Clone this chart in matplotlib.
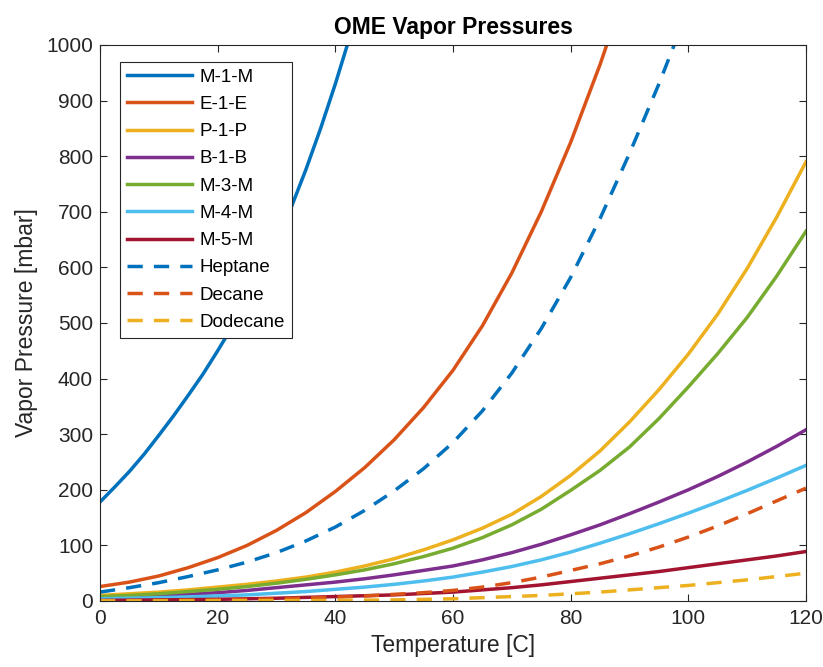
import numpy as np
import matplotlib
matplotlib.use("Agg")
import matplotlib.pyplot as plt

plt.rcParams['font.family'] = ['Liberation Sans', 'DejaVu Sans']

# temperatures (C)
temp = list(range(0, 121, 5))
temp_m1m = [0, 2.5, 5, 7.5, 10, 12.5, 15, 17.5, 20, 22.5, 25, 27.5, 30,
            32.5, 35, 37.5, 40, 42.5, 45]
temp_e1e = list(range(0, 91, 5))
temp_hept = list(range(0, 101, 5))

# vapor pressures (mbar)
m1m = [178, 205, 233, 264, 298, 333, 370, 408, 450, 494, 541, 591, 645,
       708, 776, 850, 930, 1016, 1110]
e1e = [26, 34, 45, 60, 78, 100, 127, 159, 197, 240, 290, 348, 415, 495,
       590, 700, 825, 965, 1120]
p1p = [10, 13, 16, 20, 25, 30, 36, 43, 52, 63, 76, 92, 110, 131, 156, 188,
       226, 270, 322, 380, 444, 516, 598, 690, 790]
b1b = [6, 7, 9, 12, 15, 19, 24, 29, 34, 40, 47, 55, 63, 74, 87, 102, 119,
       137, 157, 178, 200, 224, 250, 278, 308]
m3m = [8, 10, 13, 17, 21, 26, 32, 39, 47, 56, 67, 80, 95, 114, 137, 165,
       199, 235, 277, 328, 385, 445, 510, 584, 665]
m4m = [4, 5, 6, 7.5, 9, 11, 14, 17, 21, 25, 30, 36, 43, 52, 62, 74, 88, 104,
       121, 139, 158, 178, 199, 221, 244]
m5m = [1, 1.5, 2, 2.5, 3, 4, 5, 6.5, 8, 9.5, 11, 13.5, 16, 20, 24, 29, 35,
       41, 47, 53, 60, 67, 74, 81, 89]
heptane = [16, 24, 33, 44, 56, 70, 87, 108, 133, 163, 198, 238, 285, 342,
           410, 490, 582, 688, 805, 930, 1065]
decane = [0.5, 0.7, 1, 1.5, 2, 3, 4, 5.5, 7, 9, 12, 15, 19, 25, 33, 43, 55,
          67, 81, 97, 115, 135, 157, 180, 203]
dodecane = [0.1, 0.1, 0.2, 0.2, 0.3, 0.4, 0.6, 0.8, 1, 1.5, 2, 3, 4, 6, 8,
            10, 13, 16, 20, 24, 28, 33, 38, 44, 50]

c = ['#0072BD', '#D95319', '#EDB120', '#7E2F8E', '#77AC30', '#4DBEEE', '#A2142F']
lw = 2.5
dash = (0, (4.4, 3.2))

fig = plt.figure(figsize=(8.23, 6.67), dpi=100)
ax = fig.add_axes([100/823, 66/667, 706/823, 556/667])

ax.plot(temp_m1m, m1m, color=c[0], lw=lw, label='M-1-M')
ax.plot(temp_e1e, e1e, color=c[1], lw=lw, label='E-1-E')
ax.plot(temp, p1p, color=c[2], lw=lw, label='P-1-P')
ax.plot(temp, b1b, color=c[3], lw=lw, label='B-1-B')
ax.plot(temp, m3m, color=c[4], lw=lw, label='M-3-M')
ax.plot(temp, m4m, color=c[5], lw=lw, label='M-4-M')
ax.plot(temp, m5m, color=c[6], lw=lw, label='M-5-M')
ax.plot(temp_hept, heptane, color=c[0], lw=lw, ls=dash, label='Heptane')
ax.plot(temp, decane, color=c[1], lw=lw, ls=dash, label='Decane')
ax.plot(temp, dodecane, color=c[2], lw=lw, ls=dash, label='Dodecane')

ax.set_xlim(0, 120)
ax.set_ylim(0, 1000)
ax.set_xticks(np.arange(0, 121, 20))
ax.set_yticks(np.arange(0, 1001, 100))

edge = '#262626'
for s in ax.spines.values():
    s.set_color(edge)
    s.set_linewidth(0.8)
ax.tick_params(direction='in', top=True, right=True, length=5, width=0.8,
               colors=edge, labelsize=15, labelcolor=edge)
ax.tick_params(axis='x', pad=6)
ax.tick_params(axis='y', pad=5)

ax.set_xlabel('Temperature [C]', fontsize=16.5, color=edge, labelpad=4)
ax.set_ylabel('Vapor Pressure [mbar]', fontsize=16.5, color=edge, labelpad=6)
ax.set_title('OME Vapor Pressures', fontsize=16.5, fontweight='bold', pad=8)

leg = ax.legend(loc='upper left', bbox_to_anchor=(20/706, 1 - 17/556),
                borderaxespad=0, fontsize=13.5, fancybox=False, framealpha=1,
                edgecolor=edge, handlelength=3.5, handletextpad=0.4,
                labelspacing=0.54, borderpad=0.35)
leg.get_frame().set_linewidth(0.8)

fig.savefig('out.png', dpi=100)
